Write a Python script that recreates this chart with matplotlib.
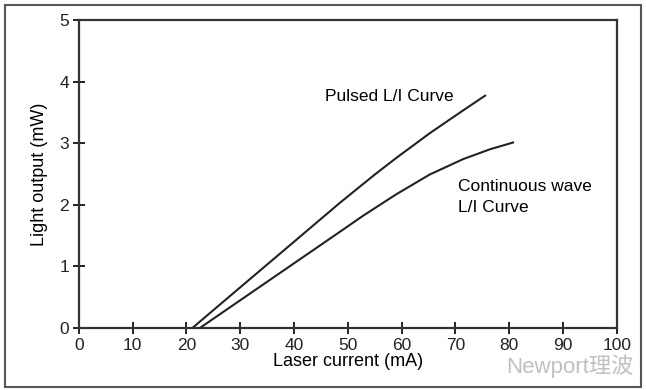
import matplotlib
matplotlib.use("Agg")
import matplotlib.pyplot as plt
from matplotlib.patches import Rectangle

plt.rcParams['font.family'] = ['Liberation Sans', 'Noto Sans CJK SC', 'DejaVu Sans']

# Pulsed L/I curve
pulsed_x = [21.1, 30, 40, 48.5, 55.0, 59.0, 65.2, 71.4, 75.5]
pulsed_y = [0.0, 0.66, 1.40, 2.03, 2.49, 2.76, 3.16, 3.53, 3.77]

# Continuous wave L/I curve
cw_x = [22.5, 30, 40, 48.5, 52.8, 59.0, 65.2, 71.4, 76.4, 80.7]
cw_y = [0.0, 0.45, 1.05, 1.56, 1.82, 2.17, 2.49, 2.74, 2.90, 3.01]

x_ticks = [0, 10, 20, 30, 40, 50, 60, 70, 80, 90, 100]
y_ticks = [0, 1, 2, 3, 4, 5]

fig = plt.figure(figsize=(6.46, 3.9), dpi=100)
ax = fig.add_axes([0.122, 0.159, 0.833, 0.790])

ax.plot(pulsed_x, pulsed_y, color='#222222', lw=1.5, solid_joinstyle='round')
ax.plot(cw_x, cw_y, color='#222222', lw=1.5, solid_joinstyle='round')

ax.set_xlim(0, 100)
ax.set_ylim(0, 5)
ax.set_xticks(x_ticks)
ax.set_yticks(y_ticks)
ax.tick_params(direction='inout', length=8, width=1.4, labelsize=12.5, colors='#222222', pad=3)
for s in ax.spines.values():
    s.set_linewidth(1.6)
    s.set_color('#333333')

ax.set_xlabel("Laser current (mA)", fontsize=13, labelpad=0)
ax.set_ylabel("Light output (mW)", fontsize=13, labelpad=8)

ax.text(45.8, 3.76, "Pulsed L/I Curve", fontsize=12.5, va='center')
ax.text(70.5, 2.3, "Continuous wave", fontsize=12.5, va='center')
ax.text(70.5, 1.95, "L/I Curve", fontsize=12.5, va='center')

# watermark
fig.text(0.98, 0.03, "Newport理波", fontsize=16, color='#c0c0c0',
         ha='right', va='bottom')

# outer frame
fig.patches.append(Rectangle((0.008, 0.008), 0.984, 0.98, transform=fig.transFigure,
                             fill=False, edgecolor='#555555', lw=1.5))

fig.savefig("out.png", dpi=100)
